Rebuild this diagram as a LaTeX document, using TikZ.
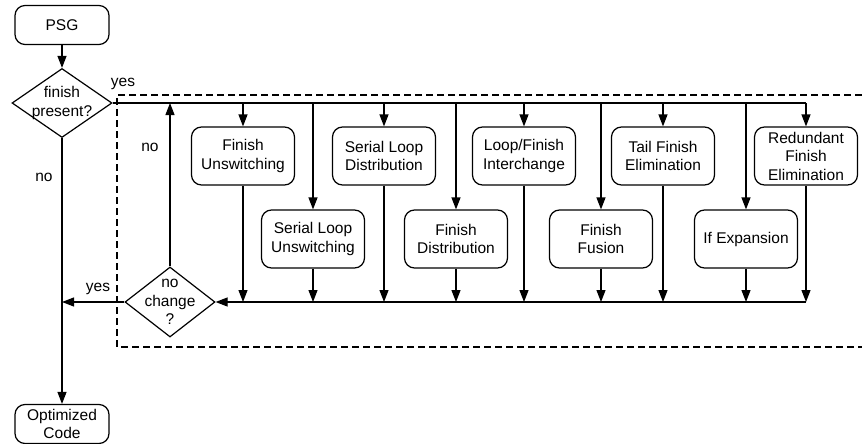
\documentclass[tikz,border=0pt]{standalone}
\usepackage{fontspec}
\setmainfont{Liberation Sans}
\usetikzlibrary{shapes.geometric,arrows.meta}

\begin{document}
\begin{tikzpicture}[x=1pt,y=-1pt,line width=1.2pt,
        font=\fontsize{15.5}{18.5}\selectfont,
        pass/.style={draw,rounded corners=10pt,minimum width=103pt,minimum height=58pt,align=center,inner sep=2pt},
        term/.style={draw,rounded corners=10pt,minimum width=94pt,minimum height=39pt,align=center,inner sep=1pt},
        test/.style={draw,diamond,align=center,inner sep=-8pt},
        arr/.style={-{Triangle[length=12pt,width=9pt]}}]
        \useasboundingbox (0,0) rectangle (862,444);
        % loop region
        \draw[dash pattern=on 7pt off 4pt] (862,95) -- (117,95) -- (117,347) -- (862,347);
        \node[term] (psg) at (62,25) {PSG};
        \node[test,minimum width=100pt,minimum height=69pt] (finish) at (62,103) {finish\\present?};
        \node[term] (opt) at (62,424) {Optimized\\Code};
        \node[test,minimum width=90pt,minimum height=70pt] (change) at (170,302) {no\\change\\?};
        \node[pass] (funsw) at (243,156) {Finish\\Unswitching};
        \node[pass] (sldist) at (384,156) {Serial Loop\\Distribution};
        \node[pass] (lfint) at (524,156) {Loop/Finish\\Interchange};
        \node[pass] (tfelim) at (663,156) {Tail Finish\\Elimination};
        \node[pass] (rfelim) at (806,156) {Redundant\\Finish\\Elimination};
        \node[pass] (slunsw) at (313,239) {Serial Loop\\Unswitching};
        \node[pass] (fdist) at (456,239) {Finish\\Distribution};
        \node[pass] (ffus) at (601,239) {Finish\\Fusion};
        \node[pass] (ifexp) at (746,239) {If Expansion};
        \coordinate (fork) at (806,103);
        \coordinate (join) at (806,302);
        % labels
        \node (yes1) at (123,84) {yes};
        \node (no1) at (44,177) {no};
        \node (no2) at (150,147) {no};
        \node (yes2) at (98,289) {yes};
        \draw[arr] (psg) -- (finish);
        \draw[arr] (finish) -- (opt);
        \draw (finish.east) -- (fork);
        \foreach \n in {funsw,slunsw,sldist,fdist,lfint,ffus,tfelim,ifexp,rfelim}{
            \draw[arr] (\n.north |- fork) -- (\n.north);
            \draw[arr] (\n.south) -- (\n.south |- join);
        }
        \draw[arr] (join) -- (change.east);
        \draw[arr] (change.north) -- (change.north |- fork);
        \draw[arr] (change.west) -- (change.west -| opt.north);
    \end{tikzpicture}
\end{document}
